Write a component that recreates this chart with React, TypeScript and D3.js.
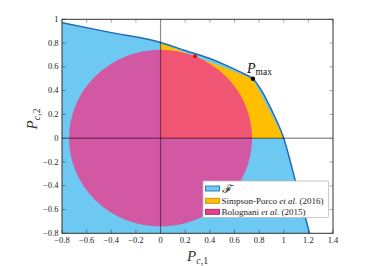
import React from 'react';
import * as d3 from 'd3';

// axis ticks
const xTicks = [-0.8, -0.6, -0.4, -0.2, 0, 0.2, 0.4, 0.6, 0.8, 1, 1.2, 1.4];
const yTicks = [-0.8, -0.6, -0.4, -0.2, 0, 0.2, 0.4, 0.6, 0.8, 1];

// boundary of the feasible set F
const boundaryX = [-0.8, -0.4, 0, 0.2, 0.4, 0.56, 0.68, 0.75, 0.82, 0.9, 1.0, 1.1, 1.21, 1.26];
const boundaryY = [0.971, 0.888, 0.805, 0.737, 0.67, 0.6, 0.54, 0.5, 0.4, 0.24, 0.0, -0.38, -0.8, -1.0];

// Simpson-Porco et al. (2016) inner approximation
const simpsonX = [0, 0, 0.75, 1];
const simpsonY = [0, 0.8, 0.5, 0];

// Bolognani et al. (2015) disc
const bolognaniRadius = 0.743;

const pMax = { x: 0.75, y: 0.5 };
const tangentPoint = { x: 0.28, y: 0.69 };

const legendLabels = ['Simpson-Porco', 'Bolognani'];
const legendYears = ['(2016)', '(2015)'];

const colors = {
  F: '#6dc8f2',
  Fline: '#1f6db5',
  simpson: '#ffbe00',
  bolognani: 'rgba(236,60,144,0.8)',
};

const fmt = (v: number) => (v < 0 ? '\u2212' : '') + String(Math.abs(+v.toFixed(1)));

export default function App() {
  const width = 367;
  const height = 266;
  const margin = { left: 62, right: 34, top: 19.3, bottom: 32.7 };

  const x = d3.scaleLinear().domain([-0.8, 1.4]).range([margin.left, width - margin.right]);
  const y = d3.scaleLinear().domain([-0.8, 1]).range([height - margin.bottom, margin.top]);

  const boundary: [number, number][] = boundaryX.map((v, i) => [v, boundaryY[i]]);
  const lineGen = d3.line<[number, number]>()
    .x(d => x(d[0]))
    .y(d => y(d[1]))
    .curve(d3.curveMonotoneX);
  const curvePath = lineGen(boundary) || '';
  const areaPath = curvePath + `L${x(-0.8)},${y(-1)}Z`;

  const simpsonPath = d3.line<number>()
    .x(i => x(simpsonX[i]))
    .y(i => y(simpsonY[i]))(simpsonX.map((_, i) => i)) + 'Z';

  const rx = x(bolognaniRadius) - x(0);
  const ry = y(0) - y(bolognaniRadius);

  const x0 = margin.left;
  const x1 = width - margin.right;
  const y0 = height - margin.bottom;
  const y1 = margin.top;
  const tickLen = 3.5;
  const serif = '"Liberation Serif", "DejaVu Serif", serif';

  const lg = { x: 203, y: 181, w: 125.5, h: 36.5 };
  const rows = [188.5, 200.8, 211.8];

  return (
    <svg width={width} height={height} style={{ position: 'absolute', left: 0, top: 0 }} fontFamily={serif}>
      <defs>
        <clipPath id="plot">
          <rect x={x0} y={y1} width={x1 - x0} height={y0 - y1} />
        </clipPath>
      </defs>
      <g clipPath="url(#plot)">
        <path d={areaPath} fill={colors.F} />
        <path d={simpsonPath} fill={colors.simpson} />
        <ellipse cx={x(0)} cy={y(0)} rx={rx} ry={ry} fill={colors.bolognani} />
        <path d={curvePath} fill="none" stroke={colors.Fline} strokeWidth={1.5} />
        <line x1={x(0)} x2={x(0)} y1={y1} y2={y0} stroke="#000" strokeOpacity={0.45} strokeWidth={1.2} />
        <line x1={x0} x2={x1} y1={y(0)} y2={y(0)} stroke="#000" strokeOpacity={0.6} strokeWidth={1} />
        <circle cx={x(pMax.x)} cy={y(pMax.y)} r={2.2} fill="#000" />
        <circle cx={x(tangentPoint.x)} cy={y(tangentPoint.y)} r={2} fill="#ff0000" />
      </g>

      {/* ticks on all four sides */}
      {xTicks.map(t => (
        <g key={'xt' + t}>
          <line x1={x(t)} x2={x(t)} y1={y0} y2={y0 - tickLen} stroke="#555" strokeWidth={0.7} />
          <line x1={x(t)} x2={x(t)} y1={y1} y2={y1 + tickLen} stroke="#888" strokeWidth={0.7} />
          <text x={x(t)} y={242.5} fontSize={8.5} textAnchor="middle" fill="#222">{fmt(t)}</text>
        </g>
      ))}
      {yTicks.map(t => (
        <g key={'yt' + t}>
          <line x1={x0} x2={x0 + tickLen} y1={y(t)} y2={y(t)} stroke="#555" strokeWidth={0.7} />
          <line x1={x1} x2={x1 - tickLen} y1={y(t)} y2={y(t)} stroke="#888" strokeWidth={0.7} />
          <text x={58.5} y={y(t) + 2.6} fontSize={8.5} textAnchor="end" fill="#222">{fmt(t)}</text>
        </g>
      ))}
      <rect x={x0} y={y1} width={x1 - x0} height={y0 - y1} fill="none" stroke="#333" strokeWidth={1} />

      {/* P_max annotation */}
      <text x={247} y={72.5} fontSize={14} fill="#111">
        <tspan fontStyle="italic">P</tspan>
        <tspan fontSize={9.5} dy={2.5}>max</tspan>
      </text>

      {/* axis labels */}
      <text x={187} y={261} fontSize={15} fill="#333">
        <tspan fontStyle="italic">P</tspan>
        <tspan fontSize={10} dy={2.5} fontStyle="italic">c</tspan>
        <tspan fontSize={10}>,1</tspan>
      </text>
      <text transform={`translate(37,${y(0.2) + 15}) rotate(-90)`} fontSize={15} fill="#333">
        <tspan fontStyle="italic">P</tspan>
        <tspan fontSize={10} dy={2.5} fontStyle="italic">c</tspan>
        <tspan fontSize={10}>,2</tspan>
      </text>

      {/* legend */}
      <rect x={lg.x} y={lg.y} width={lg.w} height={lg.h} fill="#fff" stroke="#bbb" strokeWidth={0.8} rx={1} />
      <rect x={205.5} y={rows[0] - 2.5} width={14} height={5} fill={colors.F} stroke="#2a72b5" strokeWidth={0.9} />
      <text x={221.5} y={rows[0] + 4} fontSize={11.5} fontStyle="italic" fill="#111">{'\u2131'}</text>
      <rect x={205.5} y={rows[1] - 2.5} width={14} height={5} fill={colors.simpson} stroke="#c78f10" strokeWidth={0.9} />
      <rect x={205.5} y={rows[2] - 2.5} width={14} height={5} fill="#e4428a" stroke="#a8205e" strokeWidth={0.9} />
      {legendLabels.map((l, i) => (
        <text key={l} x={221.5} y={rows[i + 1] + 3} fontSize={9} fill="#222">
          {l + ' '}
          <tspan fontStyle="italic">et al.</tspan>
          {' ' + legendYears[i]}
        </text>
      ))}
    </svg>
  );
}
